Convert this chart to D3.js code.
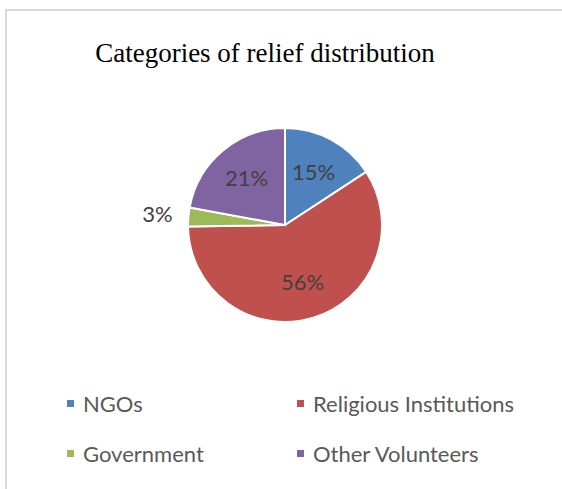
<!DOCTYPE html>
<html>
<head>
<meta charset="utf-8">
<script src="https://cdn.jsdelivr.net/npm/d3@7"></script>
<style>
  body { margin: 0; background: #fff; }
  svg text { font-family: Lato, "Open Sans", sans-serif; }
</style>
</head>
<body>
<div id="chart"></div>
<script>
// chart data
var categories = ["NGOs", "Religious Institutions", "Government", "Other Volunteers"];
var values = [15, 56, 3, 21];
var labels = ["15%", "56%", "3%", "21%"];
var colors = ["#4F81BD", "#C0504D", "#9BBB59", "#8064A2"];

var width = 562, height = 489;

var svg = d3.select("#chart").append("svg")
    .attr("width", width)
    .attr("height", height);

// frame (only left and top edges visible in the crop)
svg.append("path")
    .attr("d", "M6,489 L6,10 L562,10")
    .attr("fill", "none")
    .attr("stroke", "#d9d9d9")
    .attr("stroke-width", 2);

svg.append("text")
    .attr("x", 265)
    .attr("y", 62)
    .attr("text-anchor", "middle")
    .style("font-family", "'Liberation Serif', 'Times New Roman', serif")
    .style("font-size", "27px")
    .attr("fill", "#000")
    .text("Categories of relief distribution");

var cx = 285, cy = 225, radius = 97;

var pie = d3.pie().sort(null).value(function(d){ return d; });
var arcs = pie(values);

var arc = d3.arc().innerRadius(0).outerRadius(radius);
var labelArc = d3.arc().innerRadius(radius * 0.62).outerRadius(radius * 0.62);
var outArc = d3.arc().innerRadius(radius * 1.32).outerRadius(radius * 1.32);

var g = svg.append("g").attr("transform", "translate(" + cx + "," + cy + ")");

g.selectAll("path.slice")
    .data(arcs)
    .enter().append("path")
    .attr("class", "slice")
    .attr("d", arc)
    .attr("fill", function(d, i){ return colors[i]; })
    .attr("stroke", "#fff")
    .attr("stroke-width", 2);

g.selectAll("text.lbl")
    .data(arcs)
    .enter().append("text")
    .attr("class", "lbl")
    .attr("transform", function(d, i){
        var p = (values[i] < 5) ? outArc.centroid(d) : labelArc.centroid(d);
        return "translate(" + p[0] + "," + p[1] + ")";
    })
    .attr("text-anchor", "middle")
    .attr("dy", "0.35em")
    .style("font-size", "22px")
    .attr("fill", "#404040")
    .text(function(d, i){ return labels[i]; });

// legend 2 x 2
var legX = [67, 297], legY = [404, 454];
var leg = svg.selectAll("g.leg")
    .data(categories)
    .enter().append("g")
    .attr("class", "leg")
    .attr("transform", function(d, i){
        return "translate(" + legX[i % 2] + "," + legY[Math.floor(i / 2)] + ")";
    });

leg.append("rect")
    .attr("x", 0).attr("y", -4)
    .attr("width", 7).attr("height", 7)
    .attr("fill", function(d, i){ return colors[i]; });

leg.append("text")
    .attr("x", 16)
    .attr("dy", "0.35em")
    .style("font-size", "22px")
    .attr("fill", "#595959")
    .text(function(d){ return d; });
</script>
</body>
</html>
